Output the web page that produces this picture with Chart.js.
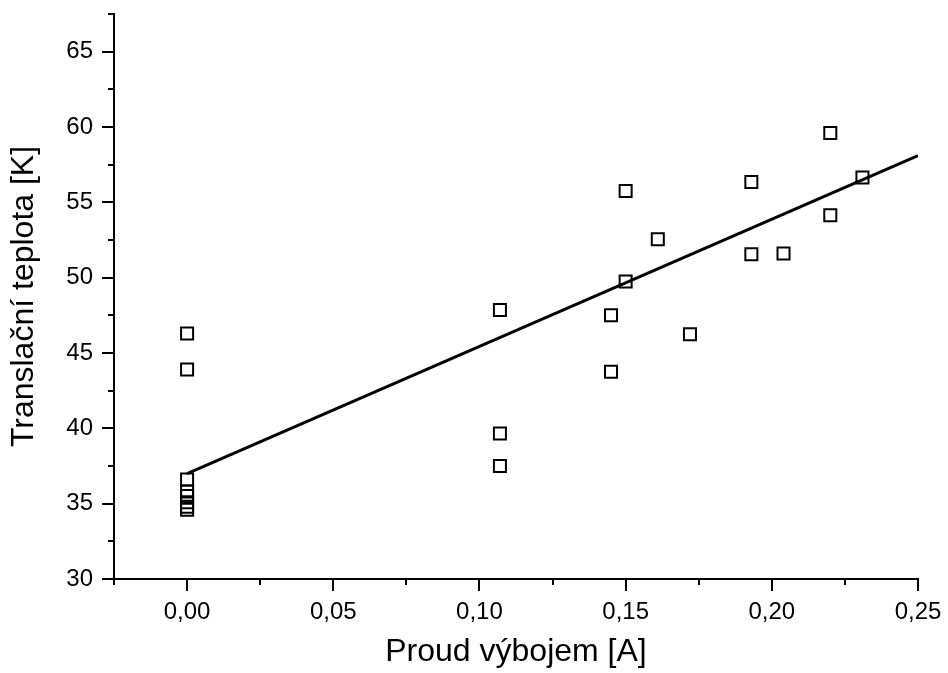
<!DOCTYPE html>
<html>
<head>
<meta charset="utf-8">
<script src="https://cdn.jsdelivr.net/npm/chart.js@4"></script>
<style>
    body { margin: 0; background: #fff; }
    #wrap { width: 948px; height: 673px; }
</style>
</head>
<body>
<div id="wrap"><canvas id="chart" width="948" height="673"></canvas></div>
<script>
// --- Data ---
const currentA = [
    0, 0, 0, 0, 0, 0, 0, 0,
    0.107, 0.107, 0.107,
    0.145, 0.145,
    0.150, 0.150,
    0.161, 0.172,
    0.193, 0.193,
    0.204,
    0.220, 0.220,
    0.231
];
const tempK = [
    46.3, 43.9, 36.6, 35.8, 35.5, 35.1, 34.8, 34.6,
    47.85, 39.65, 37.5,
    47.5, 43.75,
    55.75, 49.75,
    52.55, 46.25,
    56.35, 51.55,
    51.6,
    59.6, 54.15,
    56.65
];
// linear fit, endpoints
const fitX = [0, 0.25];
const fitY = [37.0, 58.1];

const xTitle = 'Proud výbojem [A]';
const yTitle = 'Translační teplota [K]';

const FONT = "'Liberation Sans', Arial, sans-serif";

function isMajor(v, step) {
    return Math.abs(Math.round(v / step) * step - v) < 1e-9;
}

// --- Tick marks (major + minor), drawn through the scales ---
const tickMarks = {
    id: 'tickMarks',
    afterDraw(chart) {
        const ctx = chart.ctx;
        const xs = chart.scales.x;
        const ys = chart.scales.y;
        ctx.save();
        ctx.strokeStyle = '#000';
        ctx.lineWidth = 2;
        ctx.beginPath();
        xs.ticks.forEach(t => {
            const px = Math.round(xs.getPixelForValue(t.value));
            const len = isMajor(t.value, 0.05) ? 12 : 6;
            ctx.moveTo(px, xs.top);
            ctx.lineTo(px, xs.top + len);
        });
        ys.ticks.forEach(t => {
            const py = Math.round(ys.getPixelForValue(t.value));
            const len = isMajor(t.value, 5) ? 12 : 6;
            ctx.moveTo(ys.right, py);
            ctx.lineTo(ys.right - len, py);
        });
        ctx.stroke();
        ctx.restore();
    }
};

const points = currentA.map((x, i) => ({ x: x, y: tempK[i] }));
const fit = fitX.map((x, i) => ({ x: x, y: fitY[i] }));

new Chart(document.getElementById('chart'), {
    type: 'scatter',
    data: {
        datasets: [
            {
                type: 'line',
                data: fit,
                borderColor: '#000',
                borderWidth: 3,
                pointRadius: 0,
                fill: false,
                tension: 0,
            },
            {
                data: points,
                pointStyle: 'rect',
                pointRadius: 8.5,
                borderWidth: 2,
                borderColor: '#000',
                backgroundColor: 'rgba(0,0,0,0)',
            }
        ]
    },
    options: {
        responsive: false,
        animation: false,
        events: [],
        layout: { padding: { top: 14, right: 30, left: 0, bottom: 0 } },
        plugins: { legend: { display: false }, tooltip: { enabled: false } },
        scales: {
            x: {
                type: 'linear',
                min: -0.025,
                max: 0.25,
                afterFit: s => { s.height = 94; s.paddingLeft = 0; s.paddingRight = 0; },
                grid: { drawOnChartArea: false, drawTicks: false },
                border: { display: true, color: '#000', width: 2 },
                ticks: {
                    stepSize: 0.025,
                    autoSkip: false,
                    maxRotation: 0,
                    padding: 19,
                    color: '#000',
                    font: { family: FONT, size: 24 },
                    callback: v => isMajor(v, 0.05) ? v.toFixed(2).replace('.', ',') : ''
                },
                title: {
                    display: true,
                    text: xTitle,
                    color: '#000',
                    font: { family: FONT, size: 32 },
                    padding: { top: 0, bottom: 2 }
                }
            },
            y: {
                type: 'linear',
                min: 30,
                max: 67.5,
                afterFit: s => { s.width = 114; s.paddingTop = 0; s.paddingBottom = 0; },
                grid: { drawOnChartArea: false, drawTicks: false },
                border: { display: true, color: '#000', width: 2 },
                ticks: {
                    stepSize: 2.5,
                    autoSkip: false,
                    padding: 21,
                    color: '#000',
                    font: { family: FONT, size: 24 },
                    callback: v => isMajor(v, 5) ? String(v) : ''
                },
                title: {
                    display: true,
                    text: yTitle,
                    color: '#000',
                    font: { family: FONT, size: 32 },
                    padding: { top: 5, bottom: 0 }
                }
            }
        }
    },
    plugins: [tickMarks]
});
</script>
</body>
</html>
